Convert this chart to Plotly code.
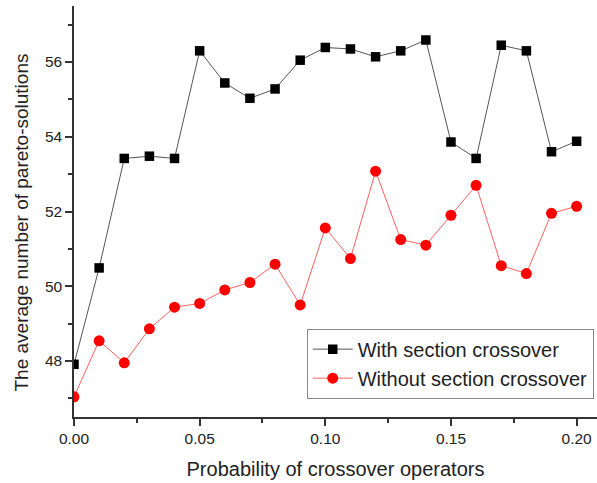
import plotly.graph_objects as go

# Crossover probability (x) and average number of pareto-solutions (y)
probability = [0.00, 0.01, 0.02, 0.03, 0.04, 0.05, 0.06, 0.07, 0.08, 0.09, 0.10,
               0.11, 0.12, 0.13, 0.14, 0.15, 0.16, 0.17, 0.18, 0.19, 0.20]
with_section = [47.91, 50.49, 53.42, 53.48, 53.42, 56.30, 55.44, 55.03, 55.28, 56.05, 56.39,
                56.35, 56.14, 56.30, 56.59, 53.86, 53.42, 56.45, 56.30, 53.60, 53.88]
without_section = [47.04, 48.54, 47.95, 48.86, 49.44, 49.54, 49.90, 50.10, 50.59, 49.50, 51.56,
                   50.74, 53.08, 51.25, 51.10, 51.90, 52.70, 50.55, 50.34, 51.95, 52.14]

series_names = ["With section crossover", "Without section crossover"]
x_ticks = [0.00, 0.05, 0.10, 0.15, 0.20]
y_ticks = [48, 50, 52, 54, 56]
y_title = "The average number of pareto-solutions"

font_family = "Liberation Sans, Arial, sans-serif"
text_color = "#222222"
axis_color = "#333333"

fig = go.Figure()
fig.add_trace(go.Scatter(
    x=probability, y=with_section, name=series_names[0],
    mode="lines+markers",
    line=dict(color="#555555", width=1),
    marker=dict(symbol="square", size=9.5, color="black"),
))
fig.add_trace(go.Scatter(
    x=probability, y=without_section, name=series_names[1],
    mode="lines+markers",
    line=dict(color="#ff6060", width=1),
    marker=dict(symbol="circle", size=11, color="red"),
))

fig.update_layout(
    width=597, height=483,
    margin=dict(l=74, r=0, t=6, b=66),
    plot_bgcolor="white", paper_bgcolor="white",
    font=dict(family=font_family, color=text_color, size=15),
    showlegend=True,
    legend=dict(
        x=0.445, y=0.215, xanchor="left", yanchor="top",
        bgcolor="white", bordercolor="#888888", borderwidth=1,
        font=dict(size=20, color=text_color),
        tracegroupgap=0, itemwidth=40,
    ),
)

# vertical axis title, placed slightly below the plot-area centre
fig.add_annotation(
    text=y_title, textangle=-90, showarrow=False,
    xref="paper", yref="paper", x=-52 / 523, y=(416 - 222) / 410,
    xanchor="center", yanchor="middle",
    font=dict(size=19, color=text_color, family=font_family),
)

fig.update_xaxes(
    range=[0, 0.2081],
    tickmode="array", tickvals=x_ticks,
    ticktext=[f"{v:.2f}" for v in x_ticks],
    showline=True, linecolor=axis_color, linewidth=1.5,
    ticks="outside", ticklen=7, tickwidth=1.5, tickcolor=axis_color,
    minor=dict(tickmode="linear", tick0=0.025, dtick=0.05, ticks="outside",
               ticklen=4, tickwidth=1.5, tickcolor=axis_color, showgrid=False),
    showgrid=False, zeroline=False,
    tickfont=dict(size=15.5, color=text_color),
    title=dict(text="Probability of crossover operators", font=dict(size=20, color=text_color), standoff=16),
)
fig.update_yaxes(
    range=[46.5, 57.5],
    tickmode="array", tickvals=y_ticks,
    showline=True, linecolor=axis_color, linewidth=1.5,
    ticks="outside", ticklen=7, tickwidth=1.5, tickcolor=axis_color,
    minor=dict(tickmode="linear", tick0=47, dtick=2, ticks="outside",
               ticklen=4, tickwidth=1.5, tickcolor=axis_color, showgrid=False),
    showgrid=False, zeroline=False,
    tickfont=dict(size=15.5, color=text_color),
)

fig.write_html("out.html")
